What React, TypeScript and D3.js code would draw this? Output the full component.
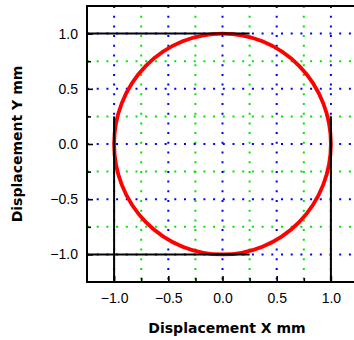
import React, { useEffect, useRef } from "react";
import * as d3 from "d3";

// axis ticks / grid positions (mm)
const majorTicks = [-1.0, -0.5, 0.0, 0.5, 1.0];
const minorTicks = [-0.75, -0.25, 0.25, 0.75];
const xDomain = [-1.25, 1.25];
const yDomain = [-1.25, 1.25];

// reference limit lines (black)
const limitLines = [
  { x1: -1.25, y1: 1.0, x2: 0.25, y2: 1.0 },
  { x1: -1.25, y1: -1.0, x2: 0.25, y2: -1.0 },
  { x1: -1.0, y1: 0.25, x2: -1.0, y2: -1.25 },
  { x1: 1.0, y1: 0.25, x2: 1.0, y2: -1.25 },
];

// measured trace: circle centre + radius
const trace = [{ cx: 0.0, cy: 0.0, r: 1.0 }];

const width = 354;
const height = 340;
const margin = { top: 6, right: -4, bottom: 58, left: 87 };

export default function App() {
  const svgRef = useRef<SVGSVGElement>(null);

  useEffect(() => {
    const svg = d3.select(svgRef.current);
    svg.selectAll("*").remove();

    const x = d3
      .scaleLinear()
      .domain(xDomain)
      .range([margin.left, width - margin.right]);
    const y = d3
      .scaleLinear()
      .domain(yDomain)
      .range([height - margin.bottom, margin.top]);

    const [x0, x1] = x.range();
    const [y0, y1] = y.range();

    // grid
    const grid = svg.append("g").attr("fill", "none").attr("stroke-width", 2);
    const gridSets = [
      { vals: minorTicks, color: "#00e600" },
      { vals: majorTicks, color: "#0000ff" },
    ];
    gridSets.forEach(({ vals, color }) => {
      grid
        .selectAll(null)
        .data(vals)
        .enter()
        .append("line")
        .attr("x1", (d) => x(d))
        .attr("x2", (d) => x(d))
        .attr("y1", y1)
        .attr("y2", y0)
        .attr("stroke", color)
        .attr("stroke-dasharray", "2 7.7");
      grid
        .selectAll(null)
        .data(vals)
        .enter()
        .append("line")
        .attr("y1", (d) => y(d))
        .attr("y2", (d) => y(d))
        .attr("x1", x0)
        .attr("x2", x1)
        .attr("stroke", color)
        .attr("stroke-dasharray", "2 7.7");
    });

    // red trace
    svg
      .selectAll("ellipse.trace")
      .data(trace)
      .enter()
      .append("ellipse")
      .attr("class", "trace")
      .attr("cx", (d) => x(d.cx))
      .attr("cy", (d) => y(d.cy))
      .attr("rx", (d) => x(d.r) - x(0))
      .attr("ry", (d) => y(0) - y(d.r))
      .attr("fill", "none")
      .attr("stroke", "#ff0000")
      .attr("stroke-width", 3.8);

    // limit lines
    svg
      .selectAll("line.limit")
      .data(limitLines)
      .enter()
      .append("line")
      .attr("class", "limit")
      .attr("x1", (d) => x(d.x1))
      .attr("x2", (d) => x(d.x2))
      .attr("y1", (d) => y(d.y1))
      .attr("y2", (d) => y(d.y2))
      .attr("stroke", "#000")
      .attr("stroke-width", 2);

    // axes
    const fmt = d3.format(".1f");
    const styleAxis = (g) => {
      g.select(".domain").remove();
      g.selectAll("line").attr("stroke", "#000").attr("stroke-width", 1.6);
      g.selectAll("text")
        .attr("fill", "#000")
        .style("font-family", "'Liberation Sans', Arial, sans-serif")
        .style("font-size", "14px");
    };

    svg
      .append("g")
      .attr("transform", `translate(0,${y0})`)
      .call(d3.axisBottom(x).tickValues(majorTicks).tickFormat(fmt).tickSize(-6).tickPadding(11))
      .call(styleAxis);
    svg
      .append("g")
      .attr("transform", `translate(0,${y0})`)
      .call(d3.axisBottom(x).tickValues(minorTicks).tickFormat(() => "").tickSize(-4))
      .call(styleAxis);
    svg
      .append("g")
      .attr("transform", `translate(${x0},0)`)
      .call(d3.axisLeft(y).tickValues(majorTicks).tickFormat(fmt).tickSize(-6).tickPadding(9))
      .call(styleAxis);
    svg
      .append("g")
      .attr("transform", `translate(${x0},0)`)
      .call(d3.axisLeft(y).tickValues(minorTicks).tickFormat(() => "").tickSize(-4))
      .call(styleAxis);

    // frame
    svg
      .append("rect")
      .attr("x", x0)
      .attr("y", y1)
      .attr("width", x1 - x0)
      .attr("height", y0 - y1)
      .attr("fill", "none")
      .attr("stroke", "#000")
      .attr("stroke-width", 2);

    // titles
    svg
      .append("text")
      .attr("x", 227)
      .attr("y", 333)
      .attr("text-anchor", "middle")
      .style("font-family", "'DejaVu Sans', sans-serif")
      .style("font-size", "14px")
      .style("font-weight", "bold")
      .text("Displacement X mm");

    svg
      .append("text")
      .attr("transform", `translate(22,${(y0 + y1) / 2}) rotate(-90)`)
      .attr("text-anchor", "middle")
      .style("font-family", "'DejaVu Sans', sans-serif")
      .style("font-size", "14px")
      .style("font-weight", "bold")
      .text("Displacement Y mm");
  }, []);

  return (
    <svg
      ref={svgRef}
      width={width}
      height={height}
      style={{ position: "absolute", left: 0, top: 0, background: "#fff" }}
    ></svg>
  );
}
